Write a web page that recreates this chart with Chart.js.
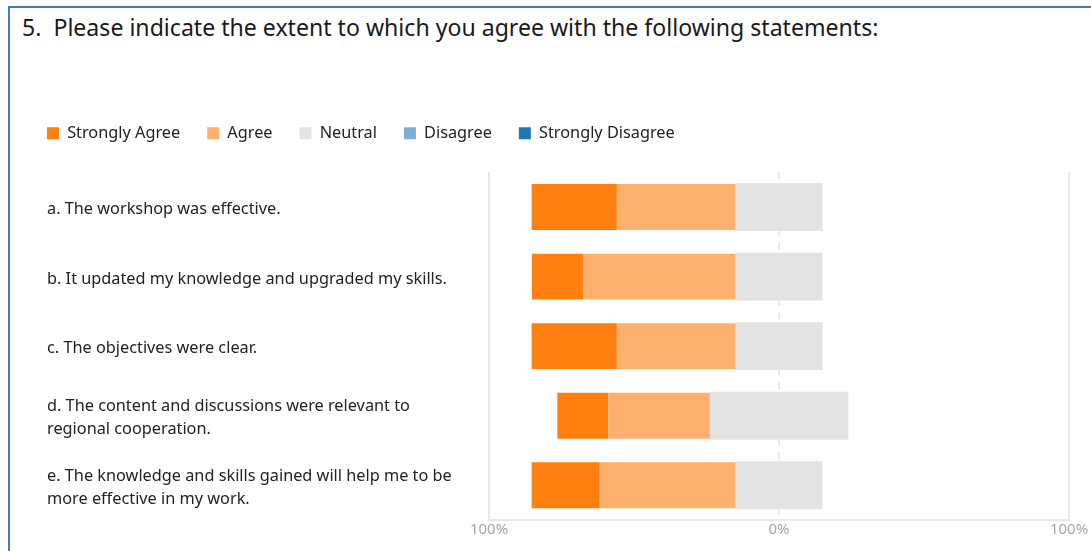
<!DOCTYPE html>
<html lang="en">
<head>
  <meta charset="UTF-8">
  <title>Workshop evaluation</title>
  <script src="https://cdn.jsdelivr.net/npm/chart.js"></script>
  <style>
    body { margin: 0; background: #fff; overflow: hidden; }
    .frame {
      position: absolute; left: 8px; top: 6px; width: 1200px; height: 700px;
      border-top: 2px solid #4a76c6; border-left: 2px solid #4a76c6;
    }
    .question {
      position: absolute; left: 22px; top: 11px; white-space: pre;
      font-family: "Noto Sans", sans-serif; font-size: 23.1px; color: #1a1a1a;
    }
    .wrap { position: absolute; left: 0; top: 0; width: 1091px; height: 551px; }
  </style>
</head>
<body>
  <div class="frame"></div>
  <div class="question">5.  Please indicate the extent to which you agree with the following statements:</div>
  <div class="wrap"><canvas id="likert"></canvas></div>

  <script>
    // statements (y axis)
    const statements = [
      ["a. The workshop was effective."],
      ["b. It updated my knowledge and upgraded my skills."],
      ["c. The objectives were clear."],
      ["d. The content and discussions were relevant to", "regional cooperation."],
      ["e. The knowledge and skills gained will help me to be", "more effective in my work."]
    ];

    // shares of answers, %
    const stronglyAgree    = [29.4, 17.6, 29.4, 17.6, 23.5];
    const agree            = [41.2, 52.9, 41.2, 35.3, 47.1];
    const neutral          = [29.4, 29.4, 29.4, 47.1, 29.4];
    const disagree         = [0, 0, 0, 0, 0];
    const stronglyDisagree = [0, 0, 0, 0, 0];

    const xTicks = [-100, 0, 100];
    const legendOrder = ["Strongly Agree", "Agree", "Neutral", "Disagree", "Strongly Disagree"];

    const font = "'Noto Sans', sans-serif";
    const legendGap = 27;

    // agree side goes left (negative), neutral is split around 0
    // (neutral halves inflated a bit so no seam shows at 0)
    const datasets = [
      { label: "Neutral", data: neutral.map(v => -v / 2), backgroundColor: "#e3e3e3", inflateAmount: 1 },
      { label: "Agree", data: agree.map(v => -v), backgroundColor: "#fdb06e" },
      { label: "Strongly Agree", data: stronglyAgree.map(v => -v), backgroundColor: "#ff8010" },
      { label: "Neutral", data: neutral.map(v => v / 2), backgroundColor: "#e3e3e3", inflateAmount: 1, skipLegend: true },
      { label: "Disagree", data: disagree, backgroundColor: "#7bafd6" },
      { label: "Strongly Disagree", data: stronglyDisagree, backgroundColor: "#2077b4" }
    ];

    // move legend to where it sits in the original
    const legendPlace = {
      id: "legendPlace",
      afterLayout(chart) {
        chart.legend.left = 47 - legendGap;
        chart.legend.top = 133 - legendGap - 8;
      }
    };

    new Chart(document.getElementById("likert"), {
      type: "bar",
      data: { labels: statements, datasets: datasets },
      plugins: [legendPlace],
      options: {
        indexAxis: "y",
        responsive: true,
        maintainAspectRatio: false,
        animation: false,
        barPercentage: 0.66,
        categoryPercentage: 1,
        layout: { padding: { left: 47, right: 22, top: 119, bottom: 0 } },
        plugins: {
          tooltip: { enabled: false },
          legend: {
            position: "top",
            align: "start",
            labels: {
              boxWidth: 12,
              boxHeight: 12,
              padding: legendGap,
              color: "#222",
              font: { family: font, size: 16.3 },
              filter: (item, data) => !data.datasets[item.datasetIndex].skipLegend,
              sort: (a, b) => legendOrder.indexOf(a.text) - legendOrder.indexOf(b.text)
            }
          }
        },
        scales: {
          x: {
            stacked: true,
            min: -100,
            max: 100,
            afterBuildTicks: s => { s.ticks = xTicks.map(v => ({ value: v })); },
            afterFit: s => { s.height = 31; },
            ticks: {
              padding: 1,
              color: "#a6a6a6",
              font: { family: font, size: 15 },
              callback: v => Math.abs(v) + "%"
            },
            grid: { drawTicks: false, color: "#e8e8e8", lineWidth: 2 },
            border: {
              color: "#e8e8e8", width: 2,
              dash: ctx => (ctx.tick && ctx.tick.value === 0 ? [7, 7] : [])
            }
          },
          y: {
            stacked: true,
            afterFit: s => { s.width = 489 - 47; },
            grid: { display: false },
            border: { display: false },
            ticks: {
              crossAlign: "far",
              labelOffset: 2.5,
              color: "#222",
              font: { family: font, size: 16.3, lineHeight: 1.43 }
            }
          }
        }
      }
    });
  </script>
</body>
</html>
